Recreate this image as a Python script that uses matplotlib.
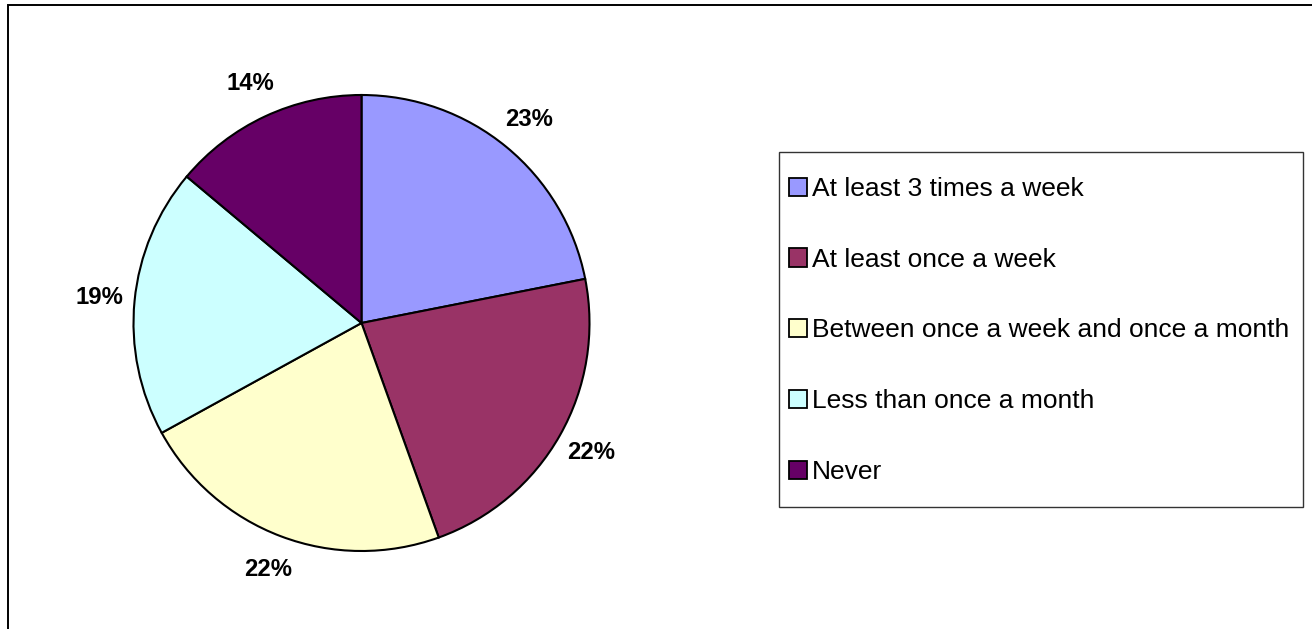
import matplotlib
matplotlib.use('Agg')
import matplotlib.pyplot as plt
from matplotlib.patches import Rectangle, Patch
import numpy as np

labels = ['At least 3 times a week', 'At least once a week',
          'Between once a week and once a month', 'Less than once a month', 'Never']
# slice sizes, printed labels as shown on it
values = [21.9, 22.6, 22.5, 19.1, 13.9]
pct_labels = ['23%', '22%', '22%', '19%', '14%']
colors = ['#9999FF', '#993366', '#FFFFCC', '#CCFFFF', '#660066']

plt.rcParams['font.family'] = ['Liberation Sans', 'DejaVu Sans']

W, H = 1312, 629
fig = plt.figure(figsize=(W / 100, H / 100), dpi=100)

# outer chart frame (cut off at right and bottom like the original)
fig.patches.append(Rectangle((7.5 / W, -0.1), 1.2, 1 - 4.5 / H + 0.1, transform=fig.transFigure,
                             fill=False, edgecolor='black', linewidth=1.4))

# pie axes: centre (361, 323) px, radius 228 px
cx, cy, r = 361.5, 323, 228
ax = fig.add_axes([(cx - r) / W, (H - cy - r) / H, 2 * r / W, 2 * r / H])
wedges, texts = ax.pie(values, colors=colors, startangle=90, counterclock=False,
                       wedgeprops=dict(edgecolor='black', linewidth=1.5))
ax.set_xlim(-1, 1)
ax.set_ylim(-1, 1)
ax.set_aspect('equal')
ax.axis('off')

for w, lab in zip(wedges, pct_labels):
    mid = np.deg2rad((w.theta1 + w.theta2) / 2)
    ax.text(1.157 * np.cos(mid), 1.157 * np.sin(mid), lab, ha='center', va='center',
            fontsize=17.2, fontweight='bold', clip_on=False)

# legend frame drawn separately so the padding can differ per side
fig.patches.append(Rectangle((779 / W, (H - 507) / H), (1303 - 779) / W, (507 - 152) / H,
                             transform=fig.transFigure, fill=False,
                             edgecolor='#333333', linewidth=1.0))
handles = [Patch(facecolor=c, edgecolor='black', linewidth=1.3) for c in colors]
leg = fig.legend(handles, labels, loc='center left',
                 bbox_to_anchor=(789 / W, (H - 330.5) / H),
                 fontsize=19, frameon=False,
                 labelspacing=1.77, handlelength=0.68, handleheight=0.68,
                 handletextpad=0.2, borderpad=0, borderaxespad=0)

fig.savefig('out.png', dpi=100)
